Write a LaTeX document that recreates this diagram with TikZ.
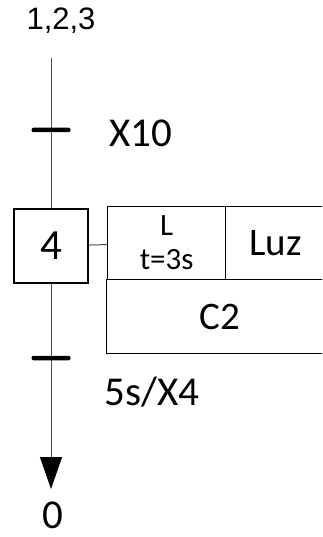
\documentclass[tikz,border=0pt]{standalone}
\usepackage{fontspec}
\setmainfont{Carlito}
\newfontfamily\arialfont{Liberation Sans}
\usetikzlibrary{arrows.meta}

\begin{document}
\begin{tikzpicture}[x=1pt,y=-1pt,
    stepbox/.style={draw,line width=2pt,minimum size=74pt,inner sep=0pt,font=\fontsize{43}{43}\selectfont},
    trans/.style={fill=black,minimum width=39pt,minimum height=4.5pt,inner sep=0pt,rounded corners=2pt},
    cell/.style={draw,line width=1.2pt,inner sep=0pt,anchor=north west},
    lbl/.style={font=\fontsize{41}{43}\selectfont},
    link/.style={line width=1pt,draw=black!70}]

    % Page frame
    \clip (0,0) rectangle (322,537);

    % Previous steps and the step
    \node[font=\arialfont\fontsize{31}{32}\selectfont] (prev) at (61,21) {1,2,3};
    \coordinate (top) at (51,58);
    \node[stepbox] (s4) at (51,246) {4};

    % Links
    \draw[link] (top) -- (s4);
    \coordinate (tip) at (51,489);
    \draw[link,-{Triangle[length=32pt,width=22pt,color=black]}] (s4) -- (tip);

    % Transitions
    \node[trans] (t1) at (51,130) {};
    \node[trans] (t2) at (51,358) {};
    \node[lbl,anchor=west] (c1) at (106,133) {X10};
    \node[lbl,anchor=west] (c2) at (101,392) {5s/X4};

    % Action table
    \node[cell,minimum width=118pt,minimum height=73pt,align=center,
          font=\fontsize{31}{34}\selectfont] (act) at (107,206) {L\\t=3s};
    \node[cell,minimum width=100pt,minimum height=73pt,font=\fontsize{39}{40}\selectfont] (luz) at (225,206) {Luz};
    \node[cell,minimum width=226pt,minimum height=74pt,font=\fontsize{39}{40}\selectfont] (cnt) at (106,279) {C2};
    \draw[link] (s4) -- (act);

    % Next step
    \node[lbl,anchor=base,inner sep=0pt] (next) at (53,528) {0};
\end{tikzpicture}
\end{document}
